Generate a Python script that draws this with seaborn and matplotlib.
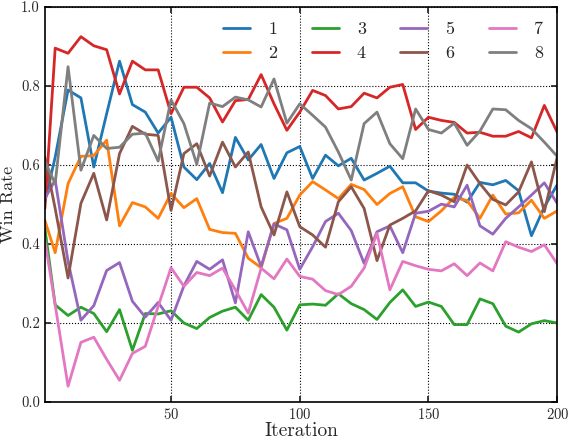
import numpy as np
import pandas as pd
import matplotlib
matplotlib.use("Agg")
import matplotlib.pyplot as plt
import seaborn as sns

iterations = [1] + list(range(5, 201, 5))

agent_1 = [0.507, 0.62, 0.79, 0.77, 0.595, 0.73, 0.863, 0.753, 0.734, 0.681, 0.721,
           0.595, 0.563, 0.604, 0.53, 0.67, 0.613, 0.652, 0.566, 0.631, 0.647,
           0.566, 0.625, 0.598, 0.617, 0.562, 0.579, 0.597, 0.555, 0.555, 0.534,
           0.529, 0.526, 0.506, 0.556, 0.55, 0.561, 0.535, 0.421, 0.494, 0.55]
agent_2 = [0.46, 0.378, 0.553, 0.622, 0.624, 0.663, 0.446, 0.505, 0.494, 0.465, 0.528,
           0.492, 0.515, 0.437, 0.429, 0.427, 0.364, 0.34, 0.452, 0.465, 0.524,
           0.558, 0.537, 0.515, 0.551, 0.538, 0.50, 0.528, 0.545, 0.469, 0.457,
           0.484, 0.518, 0.51, 0.465, 0.524, 0.476, 0.479, 0.511, 0.465, 0.484]
agent_3 = [0.44, 0.246, 0.219, 0.24, 0.224, 0.178, 0.234, 0.131, 0.224, 0.223, 0.231,
           0.2, 0.186, 0.214, 0.23, 0.24, 0.207, 0.272, 0.24, 0.182, 0.246,
           0.248, 0.245, 0.274, 0.249, 0.234, 0.209, 0.252, 0.284, 0.242, 0.253,
           0.242, 0.196, 0.196, 0.261, 0.249, 0.192, 0.177, 0.198, 0.206, 0.2]
agent_4 = [0.49, 0.896, 0.883, 0.925, 0.902, 0.892, 0.78, 0.863, 0.841, 0.841, 0.73,
           0.797, 0.797, 0.77, 0.709, 0.763, 0.766, 0.829, 0.755, 0.688, 0.734,
           0.789, 0.776, 0.742, 0.748, 0.782, 0.770, 0.797, 0.804, 0.69, 0.721,
           0.713, 0.708, 0.681, 0.683, 0.673, 0.673, 0.685, 0.669, 0.751, 0.683]
agent_5 = [0.515, 0.562, 0.356, 0.207, 0.244, 0.333, 0.353, 0.255, 0.215, 0.252, 0.207,
           0.294, 0.356, 0.336, 0.36, 0.251, 0.431, 0.343, 0.451, 0.436, 0.336,
           0.393, 0.457, 0.478, 0.434, 0.351, 0.431, 0.446, 0.378, 0.478, 0.483,
           0.501, 0.494, 0.549, 0.446, 0.425, 0.465, 0.494, 0.524, 0.555, 0.503]
agent_6 = [0.62, 0.49, 0.314, 0.503, 0.579, 0.461, 0.629, 0.698, 0.678, 0.675, 0.485,
           0.629, 0.654, 0.572, 0.658, 0.595, 0.633, 0.494, 0.423, 0.532, 0.444,
           0.423, 0.392, 0.507, 0.545, 0.49, 0.358, 0.448, 0.465, 0.484, 0.535,
           0.524, 0.507, 0.6, 0.553, 0.513, 0.499, 0.532, 0.608, 0.482, 0.62]
agent_7 = [0.41, 0.246, 0.04, 0.151, 0.164, 0.108, 0.055, 0.123, 0.141, 0.242, 0.34,
           0.293, 0.328, 0.32, 0.339, 0.284, 0.225, 0.339, 0.312, 0.362, 0.318,
           0.311, 0.282, 0.272, 0.293, 0.339, 0.427, 0.284, 0.356, 0.345, 0.336,
           0.332, 0.35, 0.32, 0.352, 0.332, 0.406, 0.392, 0.381, 0.398, 0.35]
agent_8 = [0.61, 0.553, 0.849, 0.587, 0.675, 0.642, 0.645, 0.678, 0.681, 0.61, 0.765,
           0.705, 0.602, 0.757, 0.748, 0.772, 0.765, 0.747, 0.818, 0.706, 0.755,
           0.726, 0.696, 0.633, 0.562, 0.705, 0.734, 0.654, 0.616, 0.742, 0.69,
           0.681, 0.706, 0.65, 0.686, 0.742, 0.74, 0.713, 0.692, 0.658, 0.622]

labels = ["1", "2", "3", "4", "5", "6", "7", "8"]
series = [agent_1, agent_2, agent_3, agent_4, agent_5, agent_6, agent_7, agent_8]

rows = []
for lab, vals in zip(labels, series):
    for it, v in zip(iterations, vals):
        rows.append({"Iteration": it, "Win Rate": v, "Agent": lab})
df = pd.DataFrame(rows)

sns.set_theme(style="ticks")
plt.rcParams["font.family"] = "serif"
plt.rcParams["font.serif"] = ["cmr10", "DejaVu Serif"]
plt.rcParams["mathtext.fontset"] = "cm"
plt.rcParams["axes.formatter.use_mathtext"] = True

fig, ax = plt.subplots(figsize=(5.68, 4.42), dpi=100)
fig.subplots_adjust(left=0.079, right=0.981, top=0.984, bottom=0.0905)

sns.lineplot(data=df, x="Iteration", y="Win Rate", hue="Agent",
             palette=sns.color_palette("tab10", 8), linewidth=2, ax=ax)

ax.set_xlim(1, 200)
ax.set_ylim(0, 1)
ax.set_xticks([50, 100, 150, 200])
ax.set_yticks(np.arange(0, 1.01, 0.2))
ax.yaxis.set_major_formatter(matplotlib.ticker.FormatStrFormatter("%.1f"))
ax.grid(True, linestyle=":", color="black", linewidth=0.8)
ax.tick_params(direction="in", top=True, right=True, labelsize=10.5, length=4)
for s in ax.spines.values():
    s.set_linewidth(1.2)
    s.set_color("black")
ax.set_xlabel("Iteration", fontsize=14, labelpad=0)
ax.set_ylabel("Win Rate", fontsize=13, labelpad=4)

ax.legend(ncol=4, frameon=False, loc="upper right", fontsize=13,
          handlelength=1.5, columnspacing=1.9, handletextpad=1.0,
          borderaxespad=0.4, labelspacing=0.45)

fig.savefig("out.png", dpi=100)
